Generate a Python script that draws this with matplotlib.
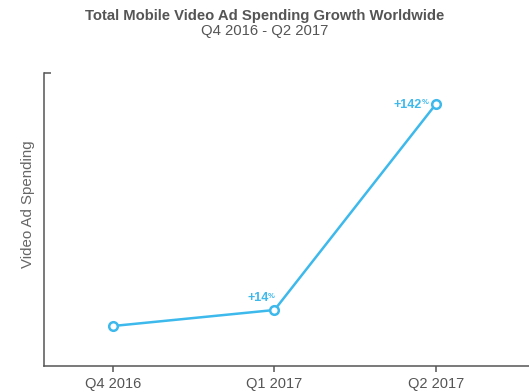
import matplotlib
matplotlib.use("Agg")
import matplotlib.pyplot as plt

categories = ["Q4 2016", "Q1 2017", "Q2 2017"]
spending = [40, 56, 262]          # relative spending (arbitrary units)
growth_labels = [None, "+14", "+142"]

plt.rcParams['font.family'] = ['Liberation Sans', 'DejaVu Sans']

BLUE = "#3db9ec"
DARK = "#555555"

fig = plt.figure(figsize=(5.29, 3.92), dpi=100)
ax = fig.add_axes([44/529, 1-366/392, 485/529, 293/392])

x = list(range(len(categories)))
ax.plot(x, spending, color=BLUE, lw=1.8, marker='o', ms=6.2,
        markerfacecolor='white', markeredgecolor=BLUE, markeredgewidth=1.8, zorder=3,
        clip_on=False)

ax.set_xlim(-0.427, 2.576)
ax.set_ylim(0, 293)
ax.set_xticks(x)
ax.set_xticklabels(categories, fontsize=10.5, color=DARK)
ax.set_yticks([293])
ax.set_yticklabels([])
ax.tick_params(axis='y', direction='in', length=5, width=1.1, color=DARK)
ax.tick_params(axis='x', direction='out', length=4, width=1.1, color=DARK, pad=4)
for s in ['top', 'right']:
    ax.spines[s].set_visible(False)
for s in ['left', 'bottom']:
    ax.spines[s].set_color(DARK)
    ax.spines[s].set_linewidth(1.1)

ax.set_ylabel("Video Ad Spending", fontsize=10.8, color="#666666")
ax.yaxis.set_label_coords((35 - 44)/485, (366-204)/293)

# (right edge of number, baseline) offsets in pixels relative to point
offsets = {1: (-6, 9), 2: (-14, -4)}
for i, lab in enumerate(growth_labels):
    if lab is None:
        continue
    dx, dy = offsets[i]
    ax.annotate(lab, (x[i], spending[i]), xytext=(dx*0.72, dy*0.72),
                textcoords='offset points', ha='right', va='baseline',
                fontsize=9, fontweight='bold', color=BLUE)
    ax.annotate("%", (x[i], spending[i]), xytext=((dx-0.5)*0.72, (dy+3.5)*0.72),
                textcoords='offset points', ha='left', va='baseline',
                fontsize=5.5, fontweight='bold', color=BLUE)

fig.text(0.5, 1-16/392, "Total Mobile Video Ad Spending Growth Worldwide",
         ha='center', va='center', fontsize=10.7, fontweight='bold', color=DARK)
fig.text(0.5, 1-31/392, "Q4 2016 - Q2 2017", ha='center', va='center',
         fontsize=10.7, color=DARK)

fig.savefig("out.png", dpi=100)
